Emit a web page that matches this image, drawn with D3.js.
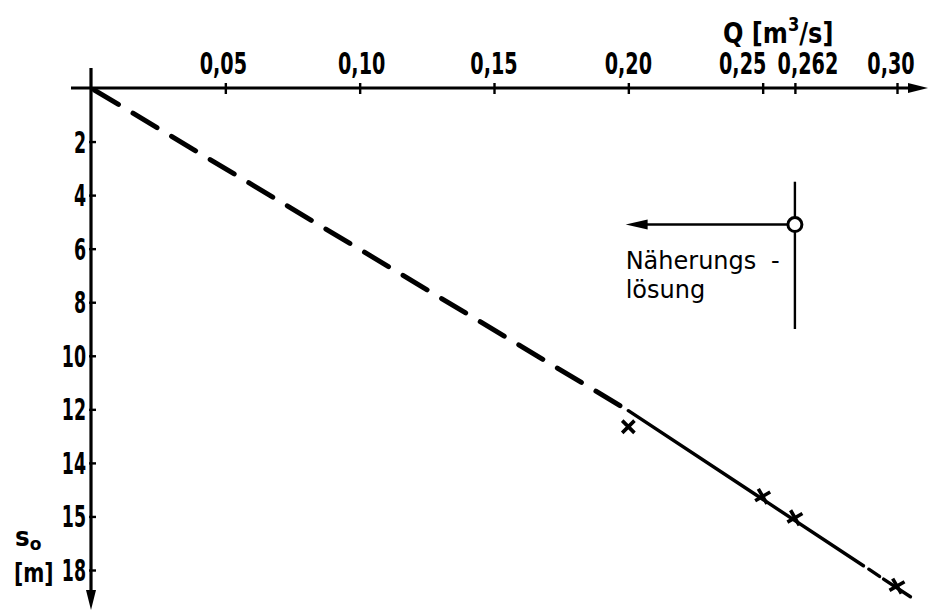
<!DOCTYPE html>
<html>
<head>
<meta charset="utf-8">
<script src="https://cdn.jsdelivr.net/npm/d3@7"></script>
<style>
  body { margin: 0; background: #fff; }
  svg { display: block; }
</style>
</head>
<body>
<script>
// Discharge Q [m³/s] against drawdown s0 [m]
const qTicks = [0.05, 0.10, 0.15, 0.20, 0.25, 0.262, 0.30];
const qTickLabels = ["0,05", "0,10", "0,15", "0,20", "0,25", "0,262", "0,30"];
const sTicks = [2, 4, 6, 8, 10, 12, 14, 16, 18];
const sTickLabels = ["2", "4", "6", "8", "10", "12", "14", "15", "18"];

// measured points (crosses)
const measuredQ = [0.20, 0.25, 0.262, 0.30];
const measuredS = [12.65, 15.25, 16.05, 18.6];

// extrapolated part of the line (dashed) and fitted part (solid)
const extrapQ = [0, 0.20];
const extrapS = [0, 12.05];
const fitQ = [0.20, 0.2875, 0.2895, 0.2935, 0.2950, 0.305];
const fitS = [12.05, 17.84, 17.97, 18.24, 18.34, 19.0];

// approximate solution marker
const approxQ = 0.262;
const approxS = 5.1;
const approxSpanS = [3.5, 9.0];
const approxArrowQ = 0.199;

const W = 930, H = 612;
const FONT = "'DejaVu Sans', 'Liberation Sans', sans-serif";

const svg = d3.select("body").append("svg")
  .attr("width", W).attr("height", H)
  .style("background", "#fff");

const x = d3.scaleLinear().domain([0, 0.30]).range([91, 897]);
const y = d3.scaleLinear().domain([0, 18]).range([88, 570]);

const x0 = x(0), y0 = y(0);

// ---- axes ----
const axisG = svg.append("g");

// Q axis along the top, ticks crossing the line
const qAxis = d3.axisTop(x).tickValues(qTicks).tickSize(6).tickFormat("").tickSizeOuter(0);
const qG = axisG.append("g").attr("transform", `translate(0,${y0})`).call(qAxis);
qG.select(".domain").remove();
qG.selectAll(".tick line").attr("y1", 6).attr("y2", -5)
  .attr("stroke", "#000").attr("stroke-width", 2.4);

// s axis pointing downward
const sAxis = d3.axisRight(y).tickValues(sTicks).tickSize(5).tickFormat("").tickSizeOuter(0);
const sG = axisG.append("g").attr("transform", `translate(${x0},0)`).call(sAxis);
sG.select(".domain").remove();
sG.selectAll(".tick line").attr("x1", -2).attr("x2", 5)
  .attr("stroke", "#000").attr("stroke-width", 2.4);

// axis lines
axisG.append("line")
  .attr("x1", x0 - 20).attr("y1", y0).attr("x2", x(0.30) + 14).attr("y2", y0)
  .attr("stroke", "#000").attr("stroke-width", 3.2);
axisG.append("line")
  .attr("x1", x0).attr("y1", y0 - 20).attr("x2", x0).attr("y2", y(18) + 24)
  .attr("stroke", "#000").attr("stroke-width", 3.2);

// arrow heads
const qEnd = x(0.30) + 31;
axisG.append("path")
  .attr("d", `M${qEnd},${y0} L${qEnd - 20},${y0 - 5} L${qEnd - 20},${y0 + 5} Z`)
  .attr("fill", "#000");
const sEnd = y(18) + 40;
axisG.append("path")
  .attr("d", `M${x0},${sEnd} L${x0 - 5},${sEnd - 20} L${x0 + 5},${sEnd - 20} Z`)
  .attr("fill", "#000");

// tick labels (narrow technical lettering)
const qShift = [-2, 2, 0, 0, -20, 13, -6];
svg.append("g").selectAll("g")
  .data(qTicks)
  .join("g")
  .attr("transform", (d, i) => `translate(${x(d) + qShift[i]},${y0 - 14}) scale(0.64,1)`)
  .append("text")
  .attr("text-anchor", "middle")
  .attr("font-family", FONT)
  .attr("font-weight", "bold")
  .attr("font-size", 30)
  .attr("fill", "#000")
  .text((d, i) => qTickLabels[i]);

svg.append("g").selectAll("g")
  .data(sTicks)
  .join("g")
  .attr("transform", d => `translate(${x0 - 5},${y(d) + 11}) scale(0.58,1)`)
  .append("text")
  .attr("text-anchor", "end")
  .attr("font-family", FONT)
  .attr("font-weight", "bold")
  .attr("font-size", 30)
  .attr("fill", "#000")
  .text((d, i) => sTickLabels[i]);

// axis titles
const qTitle = svg.append("g")
  .attr("transform", `translate(723,43) scale(0.86,1)`)
  .append("text")
  .attr("font-family", FONT)
  .attr("font-weight", "bold")
  .attr("font-size", 28)
  .attr("fill", "#000");
qTitle.append("tspan").text("Q ");
qTitle.append("tspan").text("[m");
qTitle.append("tspan").attr("font-size", 19).attr("dy", -12).text("3");
qTitle.append("tspan").attr("dy", 12).text("/s]");

const sTitle = svg.append("g")
  .attr("transform", `translate(15,546) scale(0.95,1)`)
  .append("text")
  .attr("font-family", FONT)
  .attr("font-weight", "bold")
  .attr("font-size", 26)
  .attr("fill", "#000");
sTitle.append("tspan").text("s");
sTitle.append("tspan").attr("font-size", 18).attr("dy", 4).text("o");

svg.append("g")
  .attr("transform", `translate(14,582) scale(0.75,1)`)
  .append("text")
  .attr("font-family", FONT)
  .attr("font-weight", "bold")
  .attr("font-size", 27)
  .attr("fill", "#000")
  .text("[m]");

// ---- the Q–s0 line ----
const line = d3.line().x(d => x(d[0])).y(d => y(d[1]));

svg.append("path")
  .datum(d3.zip(extrapQ, extrapS))
  .attr("d", line)
  .attr("fill", "none")
  .attr("stroke", "#000")
  .attr("stroke-width", 5)
  .attr("stroke-linecap", "round")
  .attr("stroke-dasharray", "28 17")
  .attr("stroke-dashoffset", -4);

// solid fitted line, drawn in pieces with small gaps near the end
const fitPts = d3.zip(fitQ, fitS);
for (let i = 0; i < fitPts.length - 1; i += 2) {
  svg.append("path")
    .datum([fitPts[i], fitPts[i + 1]])
    .attr("d", line)
    .attr("fill", "none")
    .attr("stroke", "#000")
    .attr("stroke-width", 3.4)
    .attr("stroke-linecap", "round");
}

// measured crosses
svg.append("g").selectAll("path")
  .data(d3.zip(measuredQ, measuredS))
  .join("path")
  .attr("transform", (d, i) => `translate(${x(d[0])},${y(d[1])}) rotate(${i === 0 ? 0 : 15})`)
  .attr("d", d3.symbol(d3.symbolTimes, 100))
  .attr("fill", "none")
  .attr("stroke", "#000")
  .attr("stroke-width", 3.6);

// ---- approximate solution ----
const ax = x(approxQ), ay = y(approxS);
svg.append("line")
  .attr("x1", ax).attr("x2", ax)
  .attr("y1", y(approxSpanS[0])).attr("y2", y(approxSpanS[1]))
  .attr("stroke", "#000").attr("stroke-width", 2.4);
svg.append("line")
  .attr("x1", ax - 7).attr("x2", x(approxArrowQ) + 14)
  .attr("y1", ay).attr("y2", ay)
  .attr("stroke", "#000").attr("stroke-width", 2.6);
svg.append("path")
  .attr("d", `M${x(approxArrowQ)},${ay} L${x(approxArrowQ) + 22},${ay - 5} L${x(approxArrowQ) + 22},${ay + 5} Z`)
  .attr("fill", "#000");
svg.append("circle")
  .attr("cx", ax).attr("cy", ay).attr("r", 7)
  .attr("fill", "#fff").attr("stroke", "#000").attr("stroke-width", 3);

const note = svg.append("text")
  .attr("font-family", FONT)
  .attr("font-size", 24)
  .attr("fill", "#000");
note.append("tspan").attr("x", x(approxArrowQ)).attr("y", 269).text("Näherungs");
note.append("tspan").attr("x", 771).attr("y", 269).text("-");
note.append("tspan").attr("x", x(approxArrowQ)).attr("y", 298).text("lösung");
</script>
</body>
</html>
